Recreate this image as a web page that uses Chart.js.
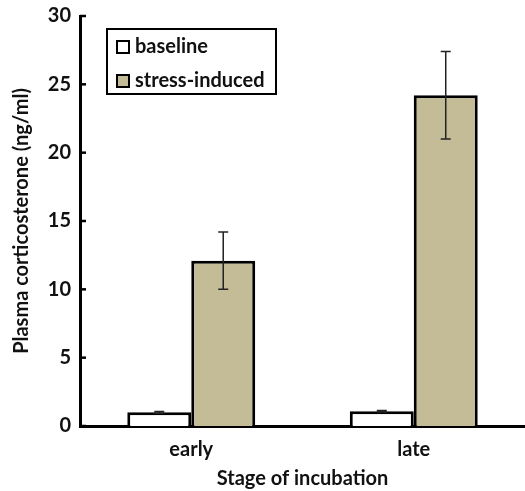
<!DOCTYPE html>
<html>
<head>
<meta charset="utf-8">
<script src="https://cdn.jsdelivr.net/npm/chart.js@4"></script>
<style>
  body { margin: 0; background: #fff; }
  #wrap { position: relative; width: 525px; height: 491px; }
  #legend {
    position: absolute; left: 106px; top: 28px; width: 171px; height: 67px;
    border: 2px solid #000; box-sizing: border-box;
    font: bold 20px Lato, sans-serif; color: #111;
  }
  #legend div { position: absolute; left: 8px; height: 22px; line-height: 22px; white-space: nowrap; }
  #legend span.sw { display: inline-block; width: 10px; height: 10px; border: 2px solid #000; margin-right: 5px; vertical-align: -1px; }
</style>
</head>
<body>
<div id="wrap">
  <canvas id="chart" width="525" height="491"></canvas>
  <div id="legend">
    <div style="top:4px"><span class="sw" style="background:#fff"></span>baseline</div>
    <div style="top:38px"><span class="sw" style="background:#c4bc96"></span>stress-induced</div>
  </div>
</div>
<script>
// Plasma corticosterone by stage of incubation
const stages = ['early', 'late'];
const baseline = [1.0, 1.08];
const baselineErr = [0.06, 0.05];
const stressInduced = [12.1, 24.2];
const stressErr = [2.1, 3.2];
const yTicks = [0, 5, 10, 15, 20, 25, 30];

const errorBars = {
    id: 'errorBars',
    afterDatasetsDraw(chart) {
        const ctx = chart.ctx;
        const y = chart.scales.y;
        ctx.save();
        ctx.strokeStyle = '#222';
        ctx.lineWidth = 1.5;
        chart.data.datasets.forEach((ds, i) => {
            chart.getDatasetMeta(i).data.forEach((bar, j) => {
                const v = ds.data[j], e = ds.errors[j];
                const top = y.getPixelForValue(v + e);
                const bot = y.getPixelForValue(v - e);
                ctx.beginPath();
                ctx.moveTo(bar.x, top); ctx.lineTo(bar.x, bot);
                ctx.moveTo(bar.x - 5, top); ctx.lineTo(bar.x + 5, top);
                ctx.moveTo(bar.x - 5, bot); ctx.lineTo(bar.x + 5, bot);
                ctx.stroke();
            });
        });
        ctx.restore();
    }
};

const innerTicks = {
    id: 'innerTicks',
    afterDraw(chart) {
        const ctx = chart.ctx;
        const y = chart.scales.y;
        const x0 = chart.chartArea.left;
        ctx.save();
        ctx.strokeStyle = '#000';
        ctx.lineWidth = 2.5;
        yTicks.forEach(t => {
            const py = y.getPixelForValue(t);
            ctx.beginPath();
            ctx.moveTo(x0, py); ctx.lineTo(x0 + 6, py);
            ctx.stroke();
        });
        ctx.restore();
    }
};

new Chart(document.getElementById('chart'), {
    type: 'bar',
    data: {
        labels: stages,
        datasets: [
            { label: 'baseline', data: baseline, errors: baselineErr, backgroundColor: '#ffffff', borderColor: '#000', borderWidth: 3 },
            { label: 'stress-induced', data: stressInduced, errors: stressErr, backgroundColor: '#c4bc96', borderColor: '#000', borderWidth: 3 }
        ]
    },
    options: {
        responsive: false,
        animation: false,
        layout: { padding: { top: 16, right: 0, left: 0, bottom: 0 } },
        datasets: { bar: { categoryPercentage: 0.575, barPercentage: 1 } },
        plugins: { legend: { display: false }, tooltip: { enabled: false } },
        scales: {
            x: {
                grid: { display: false, drawTicks: false },
                border: { color: '#000', width: 3 },
                ticks: { color: '#111', font: { family: 'Lato', weight: 'bold', size: 20 }, padding: 12 },
                title: { display: true, text: 'Stage of incubation', color: '#111', font: { family: 'Lato', weight: 'bold', size: 20 }, padding: { top: 0, bottom: 0 } },
                afterFit: s => { s.height = 65; }
            },
            y: {
                min: 0, max: 30,
                afterBuildTicks: s => { s.ticks = yTicks.map(v => ({ value: v })); },
                grid: { display: false, drawTicks: false },
                border: { color: '#000', width: 3 },
                ticks: { color: '#111', font: { family: 'Lato', weight: 'bold', size: 20 }, padding: 9 },
                title: { display: true, text: 'Plasma corticosterone (ng/ml)', color: '#111', font: { family: 'Lato', weight: 'bold', size: 20 }, padding: { top: 10, bottom: 2 } },
                afterFit: s => { s.width = 80; s.paddingTop = 0; s.paddingBottom = 0; }
            }
        }
    },
    plugins: [errorBars, innerTicks]
});
</script>
</body>
</html>
